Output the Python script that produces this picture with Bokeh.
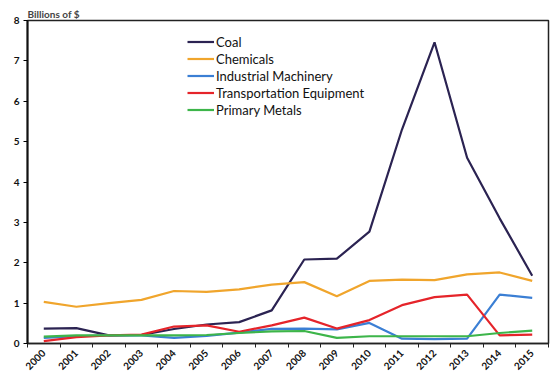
from bokeh.plotting import figure
from bokeh.embed import file_html
from bokeh.resources import INLINE
from bokeh.models import FixedTicker, Range1d, Legend, LegendItem

years = [str(y) for y in range(2000, 2016)]
coal = [0.37, 0.38, 0.2, 0.21, 0.36, 0.47, 0.53, 0.82, 2.08, 2.1, 2.77, 5.3, 7.46, 4.6, 3.1, 1.68]
chemicals = [1.03, 0.91, 1.0, 1.08, 1.3, 1.28, 1.34, 1.46, 1.52, 1.17, 1.55, 1.58, 1.57, 1.71, 1.76, 1.55]
machinery = [0.14, 0.18, 0.2, 0.2, 0.14, 0.19, 0.27, 0.36, 0.37, 0.35, 0.51, 0.12, 0.11, 0.12, 1.21, 1.13]
transport = [0.06, 0.16, 0.2, 0.22, 0.42, 0.45, 0.29, 0.45, 0.64, 0.37, 0.58, 0.95, 1.15, 1.21, 0.2, 0.22]
metals = [0.17, 0.2, 0.2, 0.2, 0.2, 0.21, 0.26, 0.3, 0.31, 0.14, 0.18, 0.18, 0.18, 0.18, 0.26, 0.32]
y_ticks = [0, 1, 2, 3, 4, 5, 6, 7, 8]

series = [
    ("Coal", coal, "#2b2352"),
    ("Chemicals", chemicals, "#f0a52c"),
    ("Industrial Machinery", machinery, "#3b7fd4"),
    ("Transportation Equipment", transport, "#e5242a"),
    ("Primary Metals", metals, "#3db54a"),
]

FONT = "Lato"

p = figure(width=560, height=375, output_backend="svg", toolbar_location=None,
           x_range=Range1d(-0.5, len(years) - 0.5), y_range=Range1d(0, 8),
           frame_width=521, frame_height=323,
           min_border_left=27, min_border_right=12, min_border_top=20, min_border_bottom=32)
p.background_fill_color = "white"
p.border_fill_color = "white"
p.xgrid.visible = False
p.ygrid.visible = False
p.outline_line_color = "#222222"
p.outline_line_width = 1.5

xs = list(range(len(years)))
items = []
for name, vals, col in series:
    r = p.line(xs, vals, line_color=col, line_width=2.2)
    items.append(LegendItem(label=name, renderers=[r]))

legend = Legend(items=items, location=(160, 225), background_fill_alpha=0,
                border_line_alpha=0, padding=0, spacing=0, margin=0,
                label_height=17, glyph_height=17, glyph_width=27, label_standoff=2,
                label_text_font=FONT, label_text_font_size="13px", label_text_color="#111111")
p.add_layout(legend)

p.xaxis.ticker = FixedTicker(ticks=xs, minor_ticks=[i + 0.5 for i in range(-1, len(years))])
p.xaxis.major_label_overrides = {i: y for i, y in enumerate(years)}
p.xaxis.major_tick_line_color = None
p.xaxis.minor_tick_line_color = "#222222"
p.xaxis.minor_tick_out = 4
p.xaxis.minor_tick_in = 0
p.xaxis.major_label_orientation = 0.785
p.xaxis.major_label_standoff = 2
p.xaxis.axis_line_color = "#222222"
p.xaxis.axis_line_width = 1.5

p.yaxis.ticker = FixedTicker(ticks=y_ticks, minor_ticks=[])
p.yaxis.major_tick_out = 4
p.yaxis.major_tick_in = 0
p.yaxis.major_label_standoff = 4
p.yaxis.axis_line_color = "#111111"
p.yaxis.axis_line_width = 2

for ax in (p.xaxis, p.yaxis):
    ax.major_label_text_font = FONT
    ax.major_label_text_font_size = "10px"
    ax.major_label_text_font_style = "bold"
    ax.major_label_text_color = "#111111"

p.title.text = "Billions of $"
p.title.text_font = FONT
p.title.text_font_size = "10px"
p.title.text_font_style = "bold"
p.title.align = "left"
p.title.offset = 0
p.title.standoff = 2

open("out.html", "w").write(file_html(p, INLINE))
